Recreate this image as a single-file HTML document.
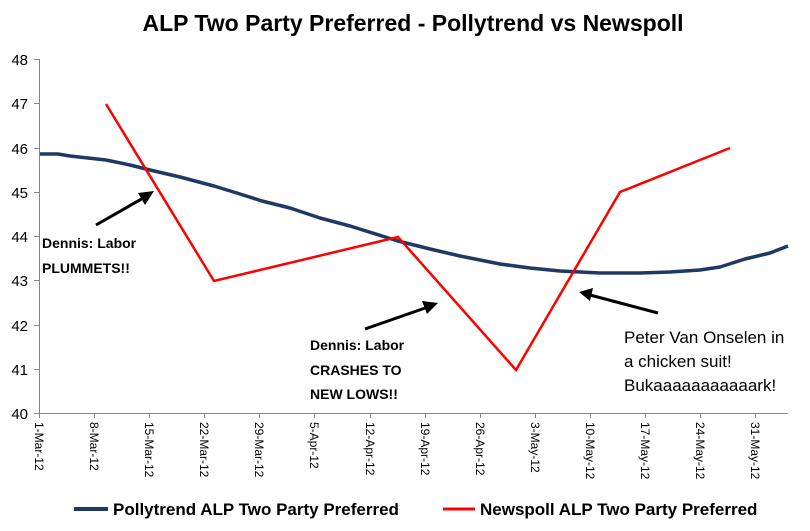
<!DOCTYPE html>
<html><head><style>
body{margin:0;background:#fff;}
svg text{font-family:"Liberation Sans",sans-serif;}
</style></head><body>
<svg width="810" height="526" xmlns="http://www.w3.org/2000/svg">
<rect width="810" height="526" fill="#fff"/>
<text x="413" y="31" text-anchor="middle" font-size="23" font-weight="bold" fill="#000">ALP Two Party Preferred - Pollytrend vs Newspoll</text>
<g stroke="#868686" stroke-width="1">
<line x1="39.5" y1="59" x2="39.5" y2="414"/>
<line x1="39" y1="413.5" x2="788" y2="413.5"/>
<line x1="34" y1="59.5" x2="40" y2="59.5"/>
<line x1="34" y1="103.5" x2="40" y2="103.5"/>
<line x1="34" y1="148.5" x2="40" y2="148.5"/>
<line x1="34" y1="192.5" x2="40" y2="192.5"/>
<line x1="34" y1="236.5" x2="40" y2="236.5"/>
<line x1="34" y1="280.5" x2="40" y2="280.5"/>
<line x1="34" y1="325.5" x2="40" y2="325.5"/>
<line x1="34" y1="369.5" x2="40" y2="369.5"/>
<line x1="34" y1="413.5" x2="40" y2="413.5"/>
</g>
<g font-size="15" fill="#000" text-anchor="end">
<text x="28" y="65">48</text><text x="28" y="109">47</text><text x="28" y="154">46</text>
<text x="28" y="198">45</text><text x="28" y="242">44</text><text x="28" y="286">43</text>
<text x="28" y="331">42</text><text x="28" y="375">41</text><text x="28" y="419">40</text>
</g>
<g stroke="#868686" stroke-width="1">
<line x1="39.5" y1="413" x2="39.5" y2="418"/><line x1="94.5" y1="413" x2="94.5" y2="418"/>
<line x1="149.5" y1="413" x2="149.5" y2="418"/><line x1="204.5" y1="413" x2="204.5" y2="418"/>
<line x1="259.5" y1="413" x2="259.5" y2="418"/><line x1="314.5" y1="413" x2="314.5" y2="418"/>
<line x1="370.5" y1="413" x2="370.5" y2="418"/><line x1="425.5" y1="413" x2="425.5" y2="418"/>
<line x1="480.5" y1="413" x2="480.5" y2="418"/><line x1="535.5" y1="413" x2="535.5" y2="418"/>
<line x1="590.5" y1="413" x2="590.5" y2="418"/><line x1="645.5" y1="413" x2="645.5" y2="418"/>
<line x1="700.5" y1="413" x2="700.5" y2="418"/><line x1="755.5" y1="413" x2="755.5" y2="418"/>
</g>
<g font-size="12" fill="#000">
<text transform="translate(35,422) rotate(90)">1-Mar-12</text>
<text transform="translate(90,422) rotate(90)">8-Mar-12</text>
<text transform="translate(145,422) rotate(90)">15-Mar-12</text>
<text transform="translate(200,422) rotate(90)">22-Mar-12</text>
<text transform="translate(255,422) rotate(90)">29-Mar-12</text>
<text transform="translate(310,422) rotate(90)">5-Apr-12</text>
<text transform="translate(366,422) rotate(90)">12-Apr-12</text>
<text transform="translate(421,422) rotate(90)">19-Apr-12</text>
<text transform="translate(476,422) rotate(90)">26-Apr-12</text>
<text transform="translate(531,422) rotate(90)">3-May-12</text>
<text transform="translate(586,422) rotate(90)">10-May-12</text>
<text transform="translate(641,422) rotate(90)">17-May-12</text>
<text transform="translate(696,422) rotate(90)">24-May-12</text>
<text transform="translate(751,422) rotate(90)">31-May-12</text>
</g>
<polyline fill="none" stroke="#1f3864" stroke-width="3.5" stroke-linejoin="round" points="40,154 58,154 70,156 106,160 130,165 150,170 180,177 214,186 240,194 262,201 290,208 320,218 350,226 398,241 430,249 460,256 500,264 530,268 560,271 580,272 600,273 640,273 670,272 700,270 720,267 745,259 770,253 788,246"/>
<polyline fill="none" stroke="#ff0000" stroke-width="2.5" stroke-linejoin="miter" points="106,104 214,281 398,237 516,370 620,192 730,148"/>
<g stroke="#000" stroke-width="3" fill="#000">
<line x1="96" y1="225" x2="145" y2="197"/><polygon points="154,191 138,193 145,205" stroke="none"/>
<line x1="365" y1="329" x2="428" y2="307"/><polygon points="438,303 422,301 427,314" stroke="none"/>
<line x1="658" y1="313" x2="590" y2="295"/><polygon points="579,292 593,288 590,301" stroke="none"/>
</g>
<g font-size="14" font-weight="bold" fill="#000">
<text x="42" y="248">Dennis: Labor</text><text x="42" y="273">PLUMMETS!!</text>
<text x="310" y="350">Dennis: Labor</text><text x="310" y="375">CRASHES TO</text><text x="310" y="399">NEW LOWS!!</text>
</g>
<g font-size="17" fill="#000">
<text x="624" y="343">Peter Van Onselen in</text><text x="624" y="367">a chicken suit!</text><text x="624" y="391">Bukaaaaaaaaaaark!</text>
</g>
<line x1="74" y1="509" x2="108" y2="509" stroke="#1f3864" stroke-width="4"/>
<text x="113" y="515" font-size="17" font-weight="bold">Pollytrend ALP Two Party Preferred</text>
<line x1="443" y1="509" x2="475" y2="509" stroke="#ff0000" stroke-width="3"/>
<text x="480" y="515" font-size="17" font-weight="bold">Newspoll ALP Two Party Preferred</text>
</svg>
</body></html>
